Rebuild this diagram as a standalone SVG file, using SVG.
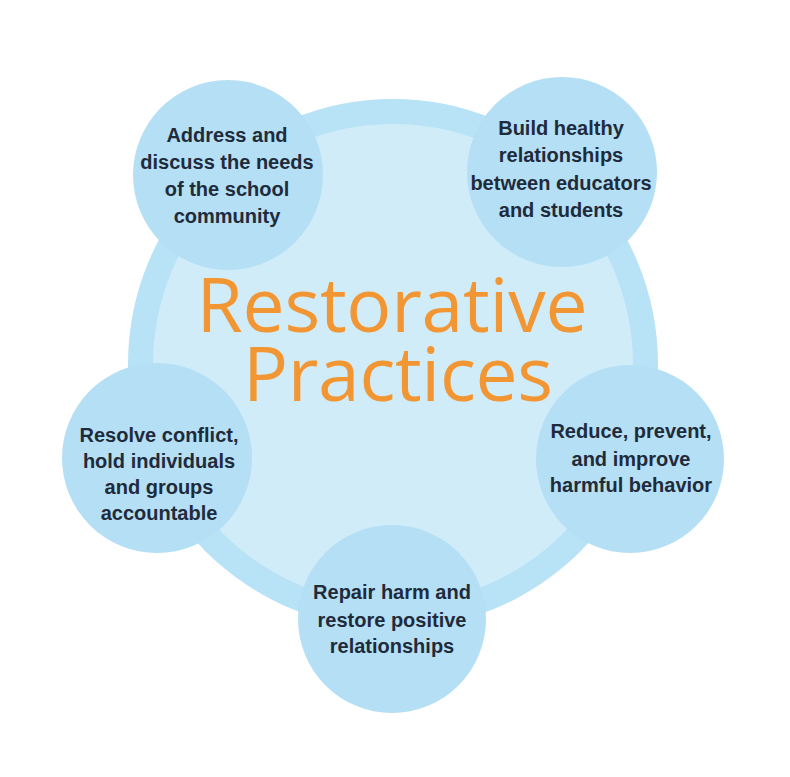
<svg xmlns="http://www.w3.org/2000/svg" width="790" height="777" viewBox="0 0 790 777">
<style>
.ring{fill:#b8e2f5}
.inner{fill:#d0ecf9}
.node{fill:#b4dff4}
.lbl{font-family:"Liberation Sans",Arial,sans-serif;font-weight:bold;font-size:20px;fill:#1f2b3b;text-anchor:middle}
.title{font-family:"Open Sans","Liberation Sans",sans-serif;font-size:75px;fill:#f29633;text-anchor:middle}
</style>
<rect width="790" height="777" fill="#ffffff"/>
<g id="hub">
<circle class="ring" cx="393" cy="364" r="265"/>
<circle class="inner" cx="393" cy="364" r="240"/>
</g>
<g id="connectors"></g>
<g id="node-tl">
<circle class="node" cx="228" cy="175" r="95"/>
<text class="lbl" x="227" y="142">Address and</text>
<text class="lbl" x="227" y="169">discuss the needs</text>
<text class="lbl" x="227" y="196">of the school</text>
<text class="lbl" x="227" y="223">community</text>
</g>
<g id="node-tr">
<circle class="node" cx="562" cy="172" r="95"/>
<text class="lbl" x="561" y="135">Build healthy</text>
<text class="lbl" x="561" y="162">relationships</text>
<text class="lbl" x="561" y="190">between educators</text>
<text class="lbl" x="561" y="217">and students</text>
</g>
<g id="node-r">
<circle class="node" cx="630" cy="459" r="94"/>
<text class="lbl" x="631" y="438">Reduce, prevent,</text>
<text class="lbl" x="631" y="466">and improve</text>
<text class="lbl" x="631" y="492">harmful behavior</text>
</g>
<g id="node-b">
<circle class="node" cx="392" cy="619" r="94"/>
<text class="lbl" x="392" y="599">Repair harm and</text>
<text class="lbl" x="392" y="627">restore positive</text>
<text class="lbl" x="392" y="653">relationships</text>
</g>
<g id="node-l">
<circle class="node" cx="157" cy="458" r="95"/>
<text class="lbl" x="159" y="442">Resolve conflict,</text>
<text class="lbl" x="159" y="468">hold individuals</text>
<text class="lbl" x="159" y="494">and groups</text>
<text class="lbl" x="159" y="520">accountable</text>
</g>
<g id="title">
<text class="title" x="392" y="332" textLength="391">Restorative</text>
<text class="title" x="398" y="401" textLength="310">Practices</text>
</g>
</svg>
